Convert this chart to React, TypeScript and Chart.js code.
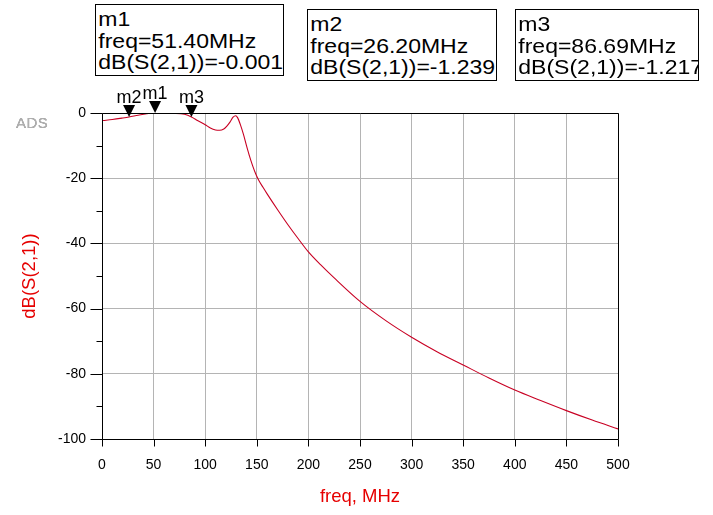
import React, { useEffect, useRef } from 'react';
import { Chart, registerables } from 'chart.js';

Chart.register(...registerables);

// ---- data ----
const freqMHz = [
  1, 10, 20, 26.2, 35, 45, 51.4, 60, 70, 80, 86.69, 93, 100, 105, 110, 114, 118, 121, 124, 127,
  129.5, 131.5, 134, 137, 140, 143, 146, 149, 152, 156, 160, 170, 180, 190, 200, 212, 225, 250,
  275, 300, 325, 350, 375, 400, 425, 450, 475, 500,
];
const dBS21 = [
  -2.3, -2.0, -1.55, -1.239, -0.7, -0.15, -0.001, -0.05, -0.1, -0.4, -1.217, -2.4, -3.6, -4.6,
  -5.2, -5.3, -4.9, -4.0, -2.8, -1.3, -0.85, -1.5, -3.5, -6.5, -10.0, -13.3, -16.2, -18.7, -20.7,
  -22.8, -24.8, -29.6, -34.2, -38.5, -42.6, -46.6, -50.6, -57.8, -63.7, -68.8, -73.3, -77.3,
  -81.3, -85.0, -88.2, -91.3, -94.2, -96.9,
];

const markerNames = ['m1', 'm2', 'm3'];
const markerFreq = [51.4, 26.2, 86.69];
const markerDB = [-0.001, -1.239, -1.217];

const xMin = 0;
const xMax = 500;
const xStep = 50;
const yMin = -100;
const yMax = 0;
const yMinorStep = 10;
const yLabelStep = 20;

const xTitle = 'freq, MHz';
const yTitle = 'dB(S(2,1))';

// ---- layout / style ----
const FONT = "'Liberation Sans', Arial, Helvetica, sans-serif";
const TRACE = 'rgb(200, 0, 35)';
const TITLE_RED = '#e60000';
const GRID = 'rgb(180, 180, 180)';

const boxLayout = [
  { left: 95, top: 4, width: 189, height: 72 },
  { left: 307, top: 9, width: 190, height: 72 },
  { left: 515, top: 9, width: 184, height: 72 },
];

const decorPlugin = {
  id: 'decor',
  afterDraw(chart: any) {
    const { ctx, chartArea: a, scales } = chart;
    const x = scales.x;
    const y = scales.y;
    ctx.save();
    ctx.strokeStyle = '#000';
    ctx.lineWidth = 1;
    const L = Math.round(a.left) + 0.5;
    const T = Math.round(a.top) + 0.5;
    const R = Math.round(a.right) + 0.5;
    const B = Math.round(a.bottom) + 0.5;
    ctx.beginPath();
    ctx.rect(L, T, R - L, B - T);
    // x tick marks
    x.ticks.forEach((t: any) => {
      const px = Math.round(x.getPixelForValue(t.value)) + 0.5;
      ctx.moveTo(px, B);
      ctx.lineTo(px, B + 7);
    });
    // y tick marks (major longer, minor shorter)
    y.ticks.forEach((t: any) => {
      const py = Math.round(y.getPixelForValue(t.value)) + 0.5;
      const major = Math.abs(t.value % yLabelStep) < 1e-9;
      const len = major ? 12 : 6;
      ctx.moveTo(L - len, py);
      ctx.lineTo(L, py);
    });
    ctx.stroke();

    // markers
    ctx.fillStyle = '#000';
    ctx.font = `18px ${FONT}`;
    ctx.textAlign = 'center';
    ctx.textBaseline = 'alphabetic';
    markerFreq.forEach((f, i) => {
      const px = x.getPixelForValue(f);
      const py = y.getPixelForValue(markerDB[i]);
      ctx.beginPath();
      ctx.moveTo(px, py);
      ctx.lineTo(px - 6, py - 12);
      ctx.lineTo(px + 6, py - 12);
      ctx.closePath();
      ctx.fill();
      ctx.fillText(markerNames[i], px, py - 14);
    });
    ctx.restore();
  },
};

export default function App() {
  const canvasRef = useRef<HTMLCanvasElement | null>(null);

  useEffect(() => {
    if (!canvasRef.current) return;
    Chart.defaults.font.family = FONT;
    const chart = new Chart(canvasRef.current, {
      type: 'scatter',
      data: {
        datasets: [
          {
            data: freqMHz.map((f, i) => ({ x: f, y: dBS21[i] })),
            showLine: true,
            borderColor: TRACE,
            borderWidth: 1.1,
            pointRadius: 0,
            cubicInterpolationMode: 'monotone',
          },
        ],
      },
      options: {
        animation: false,
        responsive: false,
        maintainAspectRatio: false,
        events: [],
        layout: { padding: { left: 0, right: 95, top: 113, bottom: 0 } },
        plugins: { legend: { display: false }, tooltip: { enabled: false } },
        scales: {
          x: {
            type: 'linear',
            min: xMin,
            max: xMax,
            afterFit: (s: any) => {
              s.height = 76;
            },
            ticks: {
              stepSize: xStep,
              color: '#000',
              font: { size: 14 },
              padding: 18,
              maxRotation: 0,
              autoSkip: false,
            },
            grid: { color: GRID, lineWidth: 1, drawTicks: false },
            border: { display: false },
            title: {
              display: true,
              text: xTitle,
              color: TITLE_RED,
              font: { size: 18.5 },
              padding: { top: 0, bottom: 7 },
            },
          },
          y: {
            type: 'linear',
            min: yMin,
            max: yMax,
            afterFit: (s: any) => {
              s.width = 102;
            },
            ticks: {
              stepSize: yMinorStep,
              autoSkip: false,
              color: '#000',
              font: { size: 14 },
              padding: 16,
              callback: (v: any) => (Math.abs(Number(v) % yLabelStep) < 1e-9 ? String(v) : ''),
            },
            grid: {
              drawTicks: false,
              lineWidth: 1,
              color: (c: any) =>
                Math.abs(c.tick.value % yLabelStep) < 1e-9 ? GRID : 'rgba(0,0,0,0)',
            },
            border: { display: false },
            title: {
              display: true,
              text: yTitle,
              color: TITLE_RED,
              font: { size: 18.5 },
              padding: { top: 19, bottom: 0 },
            },
          },
        },
      } as any,
      plugins: [decorPlugin],
    });
    return () => chart.destroy();
  }, []);

  return (
    <div
      style={{
        position: 'absolute',
        left: 0,
        top: 0,
        width: 713,
        height: 515,
        background: '#fff',
        fontFamily: FONT,
      }}
    >
      <canvas ref={canvasRef} width={713} height={515} style={{ display: 'block' }} />
      <div
        style={{
          position: 'absolute',
          left: 16,
          top: 114,
          fontSize: 15,
          color: '#b0b0b0',
          letterSpacing: 0.5,
          textShadow: '0 0 0.6px #808080',
        }}
      >
        ADS
      </div>
      {markerNames.map((name, i) => (
        <div
          key={name}
          style={{
            position: 'absolute',
            left: boxLayout[i].left,
            top: boxLayout[i].top,
            width: boxLayout[i].width,
            height: boxLayout[i].height,
            boxSizing: 'border-box',
            border: '1px solid #000',
            background: '#fff',
            overflow: 'hidden',
          }}
        >
          <div
            style={{
              paddingTop: 3.9,
              paddingLeft: 2,
              fontSize: 20,
              lineHeight: '21.7px',
              whiteSpace: 'nowrap',
              transform: 'scaleX(1.15)',
              transformOrigin: '0 0',
              color: '#000',
            }}
          >
            <div>{name}</div>
            <div>{`freq=${markerFreq[i].toFixed(2)}MHz`}</div>
            <div>{`dB(S(2,1))=${markerDB[i].toFixed(3)}`}</div>
          </div>
        </div>
      ))}
    </div>
  );
}
